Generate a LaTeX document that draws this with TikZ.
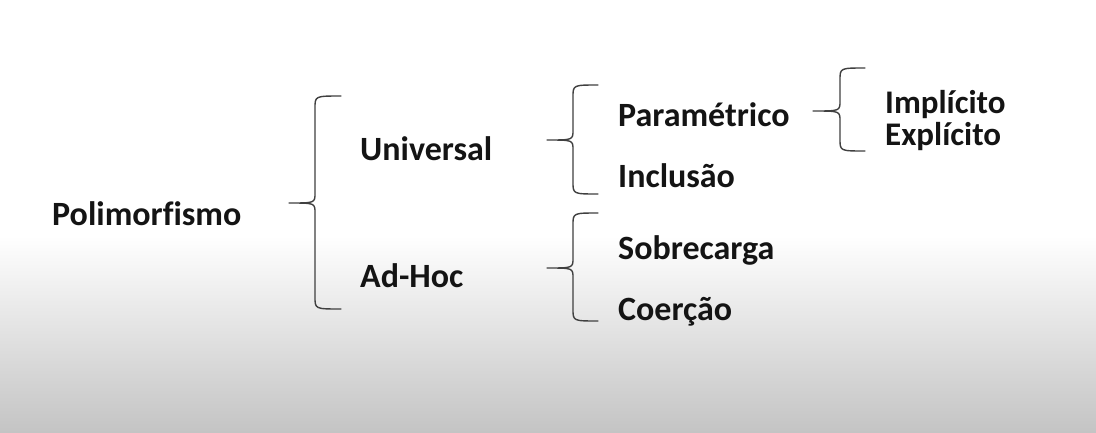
\documentclass[tikz,border=0pt]{standalone}
\usepackage{fontspec}
\setmainfont{Carlito}[Ligatures=NoCommon]
\begin{document}
\begin{tikzpicture}[x=1pt,y=-1pt,
  lbl/.style={anchor=base west,inner sep=0pt,text=black!92,font=\bfseries\fontsize{34}{40}\selectfont},
  lblsm/.style={lbl,font=\bfseries\fontsize{33}{38}\selectfont},
  bracestyle/.style={draw=black!75,line width=1.4pt,line cap=round,line join=round}]
\useasboundingbox (0,0) rectangle (1096,432);
\fill[white] (0,0) rectangle (1096,432);
\shade[top color=white,bottom color={rgb,255:red,196;green,196;blue,196}] (0,236) rectangle (1096,432);
\newcommand{\drawbrace}[6]{%
  \draw[bracestyle] (#3,#4) .. controls (#2,#4) .. (#2,{#4+12}) -- (#2,{#5-10})
    .. controls (#2,#5) .. (#1,#5) .. controls (#2,#5) .. (#2,{#5+10})
    -- (#2,{#6-12}) .. controls (#2,#6) .. (#3,#6);}
\drawbrace{289}{315}{341}{96}{203}{309}
\drawbrace{547}{573}{598}{85}{140}{194}
\drawbrace{547}{573}{598}{213}{268}{321}
\drawbrace{813}{840}{865}{68}{111}{151}
\node[lbl] (poli) at (52,225) {Polimorfismo};
\node[lbl] (univ) at (360,160) {Universal};
\node[lbl] (adhoc) at (360,287) {Ad-Hoc};
\node[lbl] (param) at (618,126) {Paramétrico};
\node[lbl] (incl) at (618,187) {Inclusão};
\node[lbl] (sobre) at (618,259) {Sobrecarga};
\node[lbl] (coer) at (618,320) {Coerção};
\node[lblsm] (impl) at (885,113) {Implícito};
\node[lblsm] (expl) at (885,145) {Explícito};
\end{tikzpicture}
\end{document}
